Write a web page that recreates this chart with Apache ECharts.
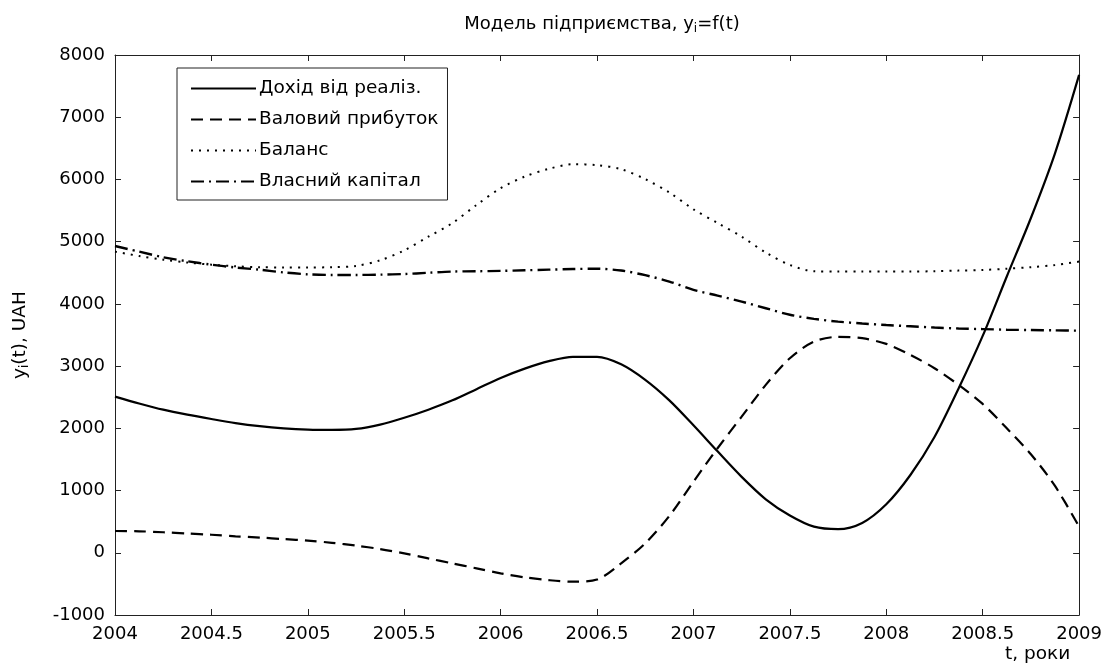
<!DOCTYPE html>
<html>
<head>
<meta charset="utf-8">
<script src="https://cdn.jsdelivr.net/npm/echarts@6/dist/echarts.min.js"></script>
<style>
  html, body { margin: 0; padding: 0; background: #fff; }
  #chart { width: 1105px; height: 668px; }
</style>
</head>
<body>
<div id="chart"></div>
<script>
// Time axis, years (step of one eighth of a year)
const years = [
  2004, 2004.125, 2004.25, 2004.375, 2004.5, 2004.625, 2004.75, 2004.875,
  2005, 2005.125, 2005.25, 2005.375, 2005.5, 2005.625, 2005.75, 2005.875,
  2006, 2006.125, 2006.25, 2006.375, 2006.5, 2006.625, 2006.75, 2006.875,
  2007, 2007.125, 2007.25, 2007.375, 2007.5, 2007.625, 2007.75, 2007.875,
  2008, 2008.125, 2008.25, 2008.375, 2008.5, 2008.625, 2008.75, 2008.875,
  2009
];

// Series values, UAH
const revenue = [
  2510, 2400, 2300, 2220, 2150, 2085, 2035, 2000,
  1980, 1975, 1990, 2060, 2170, 2300, 2450, 2630,
  2810, 2960, 3080, 3150, 3150, 3030, 2780, 2450,
  2050, 1630, 1220, 860, 600, 420, 380, 480,
  780, 1250, 1860, 2640, 3485, 4440, 5380, 6420,
  7680
];
const grossProfit = [
  350, 345, 330, 310, 290, 265, 245, 220,
  195, 160, 115, 60, -10, -90, -170, -250,
  -330, -395, -440, -465, -430, -170, 153, 592,
  1143, 1680, 2188, 2698, 3127, 3394, 3470, 3449,
  3357, 3180, 2966, 2698, 2392, 2001, 1583, 1074,
  420
];
const balance = [
  4840, 4770, 4710, 4665, 4630, 4605, 4590, 4585,
  4585, 4590, 4610, 4700, 4860, 5080, 5300, 5590,
  5860, 6046, 6170, 6245, 6230, 6165, 6005, 5790,
  5520, 5300, 5080, 4825, 4625, 4525, 4520, 4520,
  4520, 4520, 4525, 4535, 4545, 4565, 4590, 4625,
  4680
];
const equity = [
  4930, 4840, 4750, 4685, 4630, 4585, 4550, 4505,
  4475, 4465, 4465, 4470, 4480, 4500, 4520, 4525,
  4530, 4540, 4550, 4560, 4565, 4536, 4461, 4359,
  4225, 4134, 4037, 3930, 3825, 3760, 3715, 3685,
  3660, 3640, 3620, 3605, 3595, 3585, 3580, 3575,
  3570
];

const seriesNames = ['Дохід від реаліз.', 'Валовий прибуток', 'Баланс', 'Власний капітал'];

const FONT = 'DejaVu Sans, Verdana, sans-serif';
const TICK_SIZE = 18;
const TEXT_SIZE = 18;

function pairs(values) {
  return years.map((t, i) => [t, values[i]]);
}

const axisCommon = {
  axisLine: { show: true, onZero: false, lineStyle: { color: '#222', width: 1 } },
  axisTick: { show: true, inside: true, length: 6, lineStyle: { color: '#222' } },
  splitLine: { show: false }
};

const subStyle = { fontFamily: FONT, fontSize: 12, padding: [10, 0, 0, 0], color: '#000' };

const chart = echarts.init(document.getElementById('chart'), null, { renderer: 'canvas' });

chart.setOption({
  backgroundColor: '#fff',
  animation: false,
  title: {
    text: 'Модель підприємства, y{sub|i}=f(t)',
    left: 597,
    textAlign: 'center',
    top: 8,
    textStyle: {
      fontFamily: FONT, fontSize: TEXT_SIZE, fontWeight: 'normal', color: '#000',
      rich: { sub: subStyle }
    }
  },
  grid: { left: 115, top: 55, right: 23, bottom: 53, containLabel: false },
  legend: {
    orient: 'vertical',
    left: 177,
    top: 68,
    padding: [11, 9, 9, 13],
    itemGap: 12,
    itemWidth: 65,
    itemHeight: 14,
    backgroundColor: '#fff',
    borderColor: '#222',
    borderWidth: 1,
    borderRadius: 0,
    itemStyle: { opacity: 0 },
    textStyle: { fontFamily: FONT, fontSize: 18.5, color: '#000', padding: [0, 0, 0, -2] },
    data: seriesNames
  },
  xAxis: [
    Object.assign({
      type: 'value', min: 2004, max: 2009, interval: 0.5, position: 'bottom',
      axisLabel: { color: '#000', fontFamily: FONT, fontSize: TICK_SIZE, margin: 10, formatter: v => String(v) }
    }, axisCommon),
    Object.assign({
      type: 'value', min: 2004, max: 2009, interval: 0.5, position: 'top',
      axisLabel: { show: false }
    }, axisCommon)
  ],
  yAxis: [
    Object.assign({
      type: 'value', min: -1000, max: 8000, interval: 1000, position: 'left',
      axisLabel: { color: '#000', fontFamily: FONT, fontSize: TICK_SIZE, margin: 10, formatter: v => String(v) },
      name: 'y{sub|i}(t), UAH',
      nameLocation: 'middle',
      nameGap: 84,
      nameTextStyle: {
        fontFamily: FONT, fontSize: 18.5, color: '#000',
        rich: { sub: subStyle }
      }
    }, axisCommon),
    Object.assign({
      type: 'value', min: -1000, max: 8000, interval: 1000, position: 'right',
      axisLabel: { show: false }
    }, axisCommon)
  ],
  graphic: [{
    type: 'text',
    left: 1005,
    top: 645,
    style: { text: 't, роки', fontFamily: FONT, fontSize: 18.5, fill: '#000' }
  }],
  series: [
    {
      name: seriesNames[0], type: 'line', smooth: 0.3, symbol: 'none', color: '#000',
      data: pairs(revenue),
      lineStyle: { color: '#000', width: 2.2, type: 'solid' }
    },
    {
      name: seriesNames[1], type: 'line', smooth: 0.3, symbol: 'none', color: '#000',
      data: pairs(grossProfit),
      lineStyle: { color: '#000', width: 2.2, type: [12, 7] }
    },
    {
      name: seriesNames[2], type: 'line', smooth: 0.3, symbol: 'none', color: '#000',
      data: pairs(balance),
      lineStyle: { color: '#000', width: 2, type: [2, 6] }
    },
    {
      name: seriesNames[3], type: 'line', smooth: 0.3, symbol: 'none', color: '#000',
      data: pairs(equity),
      lineStyle: { color: '#000', width: 2.4, type: [13, 5, 2, 5] }
    }
  ]
});
</script>
</body>
</html>
